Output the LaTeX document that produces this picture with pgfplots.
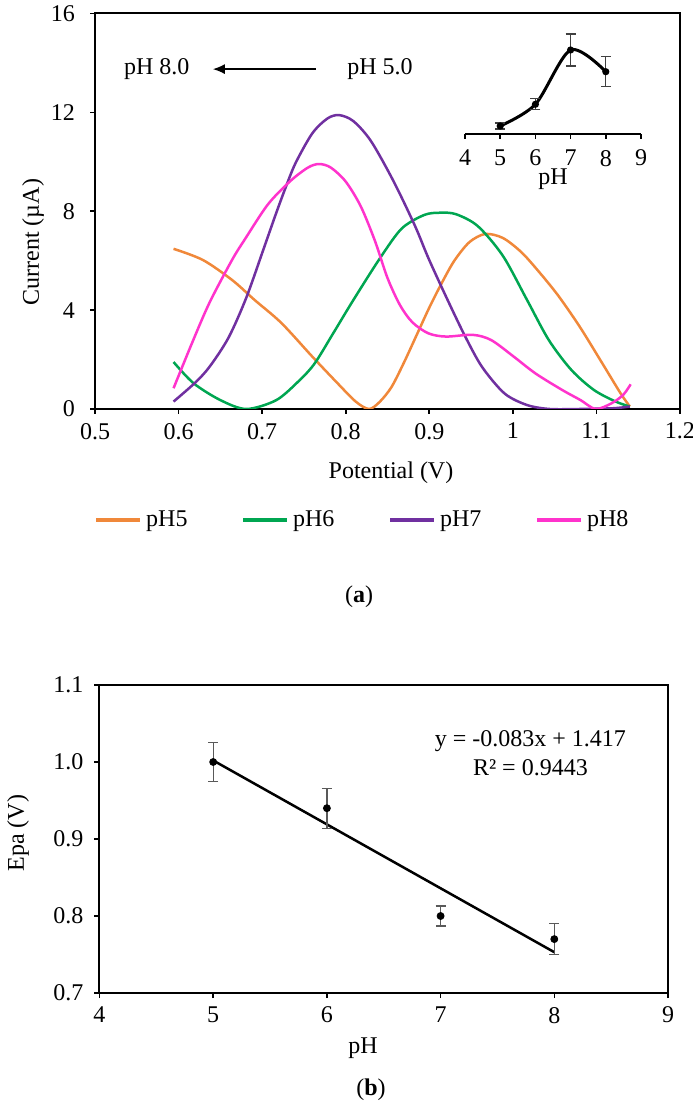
\documentclass[border=0pt]{standalone}
\usepackage{pgfplots}
\pgfplotsset{compat=1.18}
\usepackage{pgfplotstable}
\usetikzlibrary{arrows.meta}
\usepackage{fontspec}
\setmainfont{Liberation Serif}

\definecolor{cOrange}{RGB}{240,136,58}
\definecolor{cGreen}{RGB}{0,166,81}
\definecolor{cPurple}{RGB}{112,48,160}
\definecolor{cPink}{RGB}{255,51,204}

% DPV curves, potential (V) vs current (uA)
\pgfplotstableread{
x y
0.594 6.48
0.629 6.03
0.664 5.22
0.691 4.41
0.723 3.48
0.760 2.12
0.790 1.05
0.812 0.30
0.828 0.00
0.841 0.30
0.855 0.90
0.870 1.90
0.885 3.00
0.900 4.10
0.915 5.10
0.930 6.00
0.948 6.75
0.967 7.08
0.988 6.92
1.010 6.35
1.030 5.60
1.054 4.60
1.080 3.33
1.107 1.85
1.129 0.63
1.140 0.10
}\phfive
\pgfplotstableread{
x y
0.594 1.90
0.618 1.04
0.650 0.36
0.681 0.00
0.717 0.36
0.745 1.17
0.763 1.85
0.785 3.06
0.809 4.40
0.841 6.10
0.867 7.30
0.894 7.85
0.913 7.94
0.932 7.88
0.958 7.40
0.988 6.20
1.017 4.41
1.043 2.79
1.070 1.58
1.097 0.77
1.123 0.30
1.140 0.10
}\phsix
\pgfplotstableread{
x y
0.594 0.30
0.621 1.10
0.638 1.75
0.660 2.90
0.681 4.50
0.702 6.50
0.716 7.85
0.728 8.95
0.740 9.95
0.760 11.15
0.778 11.75
0.792 11.89
0.809 11.65
0.830 10.85
0.857 9.23
0.883 7.40
0.899 6.10
0.920 4.55
0.942 3.00
0.963 1.71
0.990 0.63
1.017 0.16
1.044 0.00
1.080 0.00
1.120 0.03
1.140 0.10
}\phseven
\pgfplotstableread{
x y
0.594 0.84
0.616 2.66
0.637 4.30
0.664 6.03
0.680 6.90
0.707 8.28
0.734 9.23
0.755 9.77
0.768 9.91
0.782 9.77
0.800 9.20
0.818 8.20
0.835 6.80
0.850 5.30
0.865 4.20
0.880 3.50
0.899 3.06
0.920 2.93
0.952 3.00
0.974 2.79
1.001 2.12
1.027 1.44
1.059 0.77
1.081 0.36
1.099 0.00
1.118 0.23
1.132 0.57
1.141 1.00
}\pheight

\begin{document}
\begin{tikzpicture}
\pgfplotsset{
  every axis/.append style={font=\fontsize{12}{14}\selectfont},
  /pgf/number format/assume math mode=true,
}

% (a) DPV curves
\begin{axis}[
  at={(47.5pt,350pt)}, anchor=south west,
  scale only axis, width=292.5pt, height=197.75pt,
  xmin=0.5, xmax=1.2, ymin=0, ymax=16,
  xtick={0.5,0.6,0.7,0.8,0.9,1,1.1,1.2},
  ytick={0,4,8,12,16},
  tick align=outside, major tick length=2.5pt,
  xtick pos=bottom, ytick pos=left,
  axis line style={line width=1pt},
  tick style={black, line width=0.8pt},
  yticklabel style={xshift=-4pt},
  xticklabel style={yshift=-1pt},
  xlabel={Potential (V)}, ylabel={Current (µA)},
  xlabel style={at={(axis description cs:0.506,-0.162)}, anchor=center},
  ylabel style={at={(axis description cs:-0.106,0.422)}, anchor=center},
  legend columns=4,
  legend style={at={(axis description cs:-0.002,-0.281)}, anchor=west,
    draw=none, fill=none, inner sep=0pt,
    /tikz/every even column/.append style={column sep=24.8pt}},
  legend image code/.code={\draw[#1, line width=2pt] (0pt,0pt) -- (22pt,0pt);},
]
\addplot[cOrange, line width=1.25pt, smooth] table {\phfive};
\addlegendentry{pH5}
\addplot[cGreen, line width=1.25pt, smooth] table {\phsix};
\addlegendentry{pH6}
\addplot[cPurple, line width=1.25pt, smooth] table {\phseven};
\addlegendentry{pH7}
\addplot[cPink, line width=1.25pt, smooth] table {\pheight};
\addlegendentry{pH8}
\node at (axis cs:0.574,13.75) {pH 8.0};
\node at (axis cs:0.841,13.75) {pH 5.0};
\draw[line width=0.75pt, -{Latex[length=6pt,width=5pt]}] (axis cs:0.764,13.75) -- (axis cs:0.641,13.75);
\end{axis}

% inset: peak current vs pH
\begin{axis}[
  at={(232.5pt,487.5pt)}, anchor=south west,
  scale only axis, width=88pt, height=50pt,
  xmin=4, xmax=9, ymin=0, ymax=10,
  axis x line=bottom, hide y axis,
  axis line style={-, line width=0.8pt},
  xtick={4,5,6,7,8,9},
  tick align=outside, major tick length=2.5pt,
  tick style={black, line width=0.8pt},
  xticklabel style={yshift=-2pt},
  xlabel={pH},
  xlabel style={at={(axis description cs:0.5,-0.45)}, anchor=center},
  clip=false,
]
\addplot[black, line width=1.5pt, smooth, mark=*, mark size=1pt,
  error bars/.cd, y dir=both, y explicit,
  error bar style={line width=0.6pt, black!75},
  error mark options={rotate=90, line width=0.6pt, black!75, mark size=2.5pt}]
  coordinates {(5,0.8) +- (0,0.3) (6,2.97) +- (0,0.55) (7,8.4) +- (0,1.6) (8,6.23) +- (0,1.5)};
\end{axis}

% (b) Epa vs pH
\begin{axis}[
  at={(49.75pt,58pt)}, anchor=south west,
  scale only axis, width=284.25pt, height=154pt,
  xmin=4, xmax=9, ymin=0.7, ymax=1.1,
  xtick={4,5,6,7,8,9},
  ytick={0.7,0.8,0.9,1.0,1.1},
  yticklabel style={xshift=-2pt, /pgf/number format/.cd, fixed, fixed zerofill, precision=1},
  xticklabel style={yshift=-1pt},
  tick align=outside, major tick length=2.5pt,
  xtick pos=bottom, ytick pos=left,
  axis line style={line width=1pt},
  tick style={black, line width=0.8pt},
  xlabel={pH}, ylabel={Epa (V)},
  xlabel style={at={(axis description cs:0.4635,-0.179)}, anchor=center},
  ylabel style={at={(axis description cs:-0.143,0.519)}, anchor=center},
]
\addplot[black, line width=1.25pt] coordinates {(5,1.002) (8,0.753)};
\addplot[black, only marks, mark=*, mark size=1.75pt,
  error bars/.cd, y dir=both, y explicit,
  error bar style={line width=0.6pt, black!65},
  error mark options={rotate=90, line width=0.6pt, black!65, mark size=2.5pt}]
  coordinates {(5,1.000) +- (0,0.025) (6,0.940) +- (0,0.026) (7,0.800) +- (0,0.013) (8,0.770) +- (0,0.020)};
\node[align=center, font=\fontsize{12}{14.5}\selectfont] at (axis cs:7.79,1.012) {y = -0.083x + 1.417\\R² = 0.9443};
\end{axis}

\node[font=\fontsize{12}{14}\selectfont] at (179.5pt,256pt) {(\textbf{a})};
\node[font=\fontsize{12}{14}\selectfont] at (185.5pt,9.5pt) {(\textbf{b})};

\pgfresetboundingbox
\useasboundingbox (0pt,0pt) rectangle (346pt,554.5pt);
\end{tikzpicture}
\end{document}
